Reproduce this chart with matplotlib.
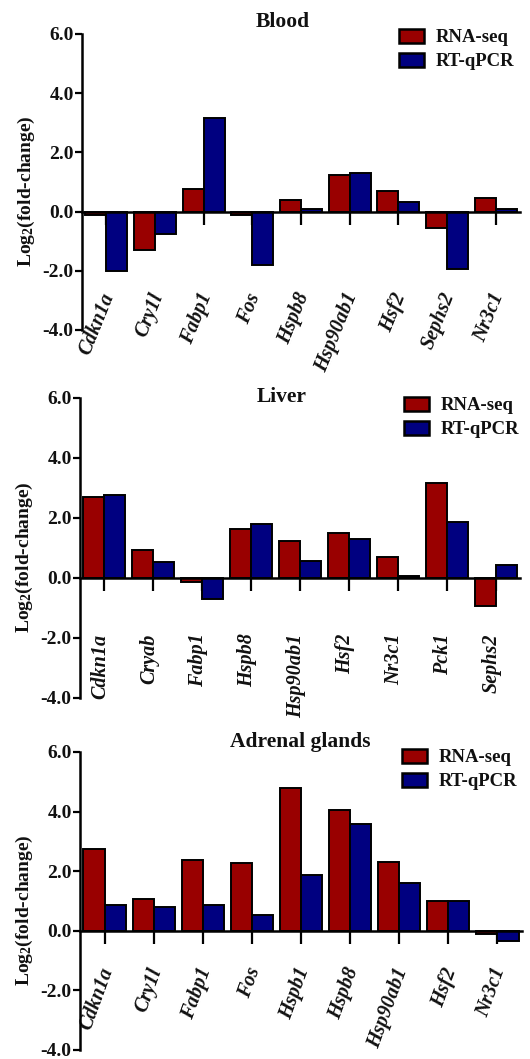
import matplotlib
matplotlib.use('Agg')
import matplotlib.pyplot as plt
import matplotlib.transforms as mtransforms
from matplotlib.patches import Patch
import numpy as np

plt.rcParams['font.family'] = ['Liberation Serif', 'DejaVu Serif']
plt.rcParams['font.weight'] = 'bold'
plt.rcParams['axes.unicode_minus'] = False
plt.rcParams['mathtext.fontset'] = 'custom'
plt.rcParams['mathtext.rm'] = 'Liberation Serif:bold'
plt.rcParams['mathtext.bf'] = 'Liberation Serif:bold'
plt.rcParams['mathtext.default'] = 'bf'

# DATA
blood_genes = ['Cdkn1a', 'Cry1l', 'Fabp1', 'Fos', 'Hspb8', 'Hsp90ab1', 'Hsf2', 'Sephs2', 'Nr3c1']
blood_rnaseq = [-0.13, -1.3, 0.78, -0.12, 0.4, 1.25, 0.68, -0.55, 0.47]
blood_qpcr = [-2.0, -0.75, 3.15, -1.8, 0.08, 1.32, 0.33, -1.93, 0.08]

liver_genes = ['Cdkn1a', 'Cryab', 'Fabp1', 'Hspb8', 'Hsp90ab1', 'Hsf2', 'Nr3c1', 'Pck1', 'Sephs2']
liver_rnaseq = [2.7, 0.92, -0.12, 1.64, 1.22, 1.51, 0.7, 3.17, -0.94]
liver_qpcr = [2.76, 0.53, -0.69, 1.81, 0.56, 1.31, 0.08, 1.87, 0.42]

adrenal_genes = ['Cdkn1a', 'Cry1l', 'Fabp1', 'Fos', 'Hspb1', 'Hspb8', 'Hsp90ab1', 'Hsf2', 'Nr3c1']
adrenal_rnaseq = [2.74, 1.08, 2.36, 2.28, 4.8, 4.06, 2.3, 1.01, -0.1]
adrenal_qpcr = [0.88, 0.8, 0.88, 0.54, 1.88, 3.6, 1.6, 1.01, -0.33]

y_ticks = [-4.0, -2.0, 0.0, 2.0, 4.0, 6.0]
series_names = ['RNA-seq', 'RT-qPCR']

RED = '#990000'
BLUE = '#000080'
INK = '#111111'

W, H = 530, 1059
fig = plt.figure(figsize=(W / 100, H / 100), dpi=100)


def px_box(left, right, top, bottom):
    return [left / W, 1 - bottom / H, (right - left) / W, (bottom - top) / H]


def panel(box, genes, rnaseq, qpcr, title, title_xy, legend_xy, rot, pad, dx):
    ax = fig.add_axes(px_box(*box))
    x = np.arange(len(genes))
    bw = 0.43
    ax.bar(x - bw / 2, rnaseq, bw, color=RED, edgecolor='black', linewidth=1.4, zorder=2)
    ax.bar(x + bw / 2, qpcr, bw, color=BLUE, edgecolor='black', linewidth=1.4, zorder=2)

    ax.set_xlim(-0.5, len(genes) - 0.5)
    ax.set_ylim(-4, 6)
    ax.spines['top'].set_visible(False)
    ax.spines['right'].set_visible(False)
    ax.spines['bottom'].set_position(('data', 0))
    ax.spines['bottom'].set_linewidth(1.8)
    ax.spines['left'].set_linewidth(1.8)
    ax.spines['bottom'].set_zorder(3)

    ax.set_yticks(y_ticks)
    ax.set_yticklabels(['%.1f' % v for v in y_ticks], fontsize=14, color=INK)
    ax.tick_params(axis='y', direction='out', length=5, width=1.6, pad=1)

    ax.set_xticks(x)
    ax.set_xticklabels(genes, fontsize=14.5, style='italic', color=INK)
    ax.tick_params(axis='x', direction='out', length=9, width=1.6, pad=pad)
    off = mtransforms.ScaledTranslation(dx / 100, 0, fig.dpi_scale_trans)
    for lbl in ax.get_xticklabels():
        lbl.set_rotation(rot)
        lbl.set_rotation_mode('anchor')
        lbl.set_ha('right')
        lbl.set_va('center')
        lbl.set_transform(lbl.get_transform() + off)

    ax.set_ylabel('Log$_2$(fold-change)', fontsize=14, fontweight='bold', color=INK)
    ax.yaxis.set_label_coords(-0.102, 0.47)

    fig.text(title_xy[0] / W, 1 - title_xy[1] / H, title, ha='center', va='center',
             fontsize=15.5, color=INK)

    handles = [Patch(facecolor=RED, edgecolor='black', linewidth=1.8),
               Patch(facecolor=BLUE, edgecolor='black', linewidth=1.8)]
    fig.legend(handles, series_names, loc='upper left',
               bbox_to_anchor=(legend_xy[0] / W, 1 - legend_xy[1] / H),
               frameon=False, fontsize=13.5, borderpad=0, borderaxespad=0,
               handlelength=1.35, handleheight=0.75, handletextpad=0.6,
               labelspacing=0.35, labelcolor=INK)
    return ax


panel((82, 520, 34, 330), blood_genes, blood_rnaseq, blood_qpcr, 'Blood',
      (283, 22), (399, 29), 68, 50, 3)
panel((80, 520, 398, 698), liver_genes, liver_rnaseq, liver_qpcr, 'Liver',
      (282, 397), (404, 397), 90, 31, -4)
panel((80, 522, 752, 1050), adrenal_genes, adrenal_rnaseq, adrenal_qpcr, 'Adrenal glands',
      (300, 742), (402, 749), 70, 18, 3)

fig.savefig('out.png', dpi=100)
